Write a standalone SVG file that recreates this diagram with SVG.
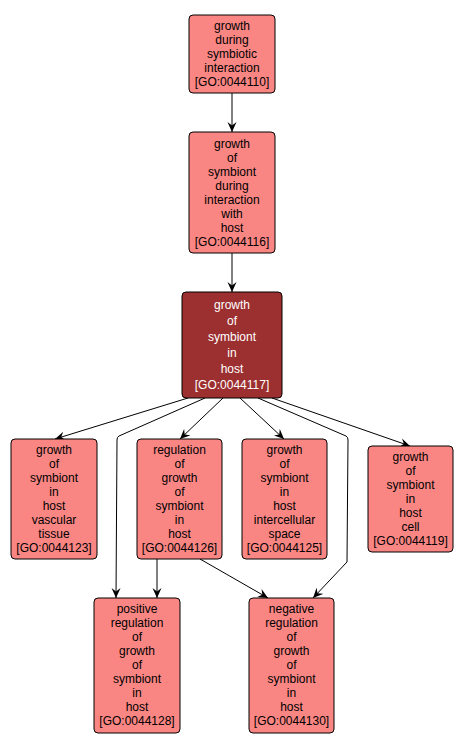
<svg xmlns="http://www.w3.org/2000/svg" width="463" height="749" viewBox="0 0 463 749">
<style>
.n rect{fill:#fa8684;stroke:#000;stroke-width:1}
.n text{font-family:"Liberation Sans",Arial,sans-serif;font-size:12px;fill:#000;text-anchor:middle}
.d rect{fill:#9c2f2f}
.d text{fill:#fff}
#edges path{fill:none;stroke:#000;stroke-width:1}
</style>
<defs>
<marker id="ar" viewBox="-10 -5 10 10" refX="0" refY="0" markerWidth="10" markerHeight="10" markerUnits="userSpaceOnUse" orient="auto">
<path d="M0,0 L-10,-4.5 L-6.5,0 L-10,4.5 Z" fill="#000"/>
</marker>
</defs>
<rect width="463" height="749" fill="#fff"/>
<g id="edges">
<path d="M232,93 L232,132" marker-end="url(#ar)"/>
<path d="M232,253 L232,292" marker-end="url(#ar)"/>
<path d="M188,398 L55,439" marker-end="url(#ar)"/>
<path d="M223,398 L180,439" marker-end="url(#ar)"/>
<path d="M240,398 L284,439" marker-end="url(#ar)"/>
<path d="M272,398 L410,446" marker-end="url(#ar)"/>
<path d="M205,398 L119,436 Q117,437 117,440 L116,598" marker-end="url(#ar)"/>
<path d="M258,398 L346,436 Q348,437 348,440 L347,562 L313,598" marker-end="url(#ar)"/>
<path d="M157,559 L157,598" marker-end="url(#ar)"/>
<path d="M200,559 L268,598" marker-end="url(#ar)"/>
</g>
<g id="GO0044110" class="n"><rect x="189" y="15" width="86" height="78" rx="4"/>
<text x="232" y="30">growth</text><text x="232" y="44">during</text><text x="232" y="58">symbiotic</text><text x="232" y="72">interaction</text><text x="232" y="86">[GO:0044110]</text></g>
<g id="GO0044116" class="n"><rect x="189" y="132" width="86" height="121" rx="4"/>
<text x="232" y="148">growth</text><text x="232" y="162">of</text><text x="232" y="176">symbiont</text><text x="232" y="190">during</text><text x="232" y="204">interaction</text><text x="232" y="218">with</text><text x="232" y="232">host</text><text x="232" y="246">[GO:0044116]</text></g>
<g id="GO0044117" class="n d"><rect x="182" y="292" width="100" height="106" rx="4"/>
<text x="232" y="309">growth</text><text x="232" y="325">of</text><text x="232" y="341">symbiont</text><text x="232" y="357">in</text><text x="232" y="373">host</text><text x="232" y="389">[GO:0044117]</text></g>
<g id="GO0044123" class="n"><rect x="11" y="439" width="86" height="120" rx="4"/>
<text x="54" y="454">growth</text><text x="54" y="468">of</text><text x="54" y="482">symbiont</text><text x="54" y="496">in</text><text x="54" y="510">host</text><text x="54" y="524">vascular</text><text x="54" y="538">tissue</text><text x="54" y="552">[GO:0044123]</text></g>
<g id="GO0044126" class="n"><rect x="137" y="439" width="85" height="120" rx="4"/>
<text x="179.5" y="454">regulation</text><text x="179.5" y="468">of</text><text x="179.5" y="482">growth</text><text x="179.5" y="496">of</text><text x="179.5" y="510">symbiont</text><text x="179.5" y="524">in</text><text x="179.5" y="538">host</text><text x="179.5" y="552">[GO:0044126]</text></g>
<g id="GO0044125" class="n"><rect x="242" y="439" width="85" height="120" rx="4"/>
<text x="284.5" y="454">growth</text><text x="284.5" y="468">of</text><text x="284.5" y="482">symbiont</text><text x="284.5" y="496">in</text><text x="284.5" y="510">host</text><text x="284.5" y="524">intercellular</text><text x="284.5" y="538">space</text><text x="284.5" y="552">[GO:0044125]</text></g>
<g id="GO0044119" class="n"><rect x="368" y="446" width="85" height="106" rx="4"/>
<text x="410.5" y="461">growth</text><text x="410.5" y="475">of</text><text x="410.5" y="489">symbiont</text><text x="410.5" y="503">in</text><text x="410.5" y="517">host</text><text x="410.5" y="531">cell</text><text x="410.5" y="545">[GO:0044119]</text></g>
<g id="GO0044128" class="n"><rect x="94" y="598" width="86" height="135" rx="4"/>
<text x="137" y="613">positive</text><text x="137" y="627">regulation</text><text x="137" y="641">of</text><text x="137" y="655">growth</text><text x="137" y="669">of</text><text x="137" y="683">symbiont</text><text x="137" y="697">in</text><text x="137" y="711">host</text><text x="137" y="725">[GO:0044128]</text></g>
<g id="GO0044130" class="n"><rect x="249" y="598" width="85" height="135" rx="4"/>
<text x="291.5" y="613">negative</text><text x="291.5" y="627">regulation</text><text x="291.5" y="641">of</text><text x="291.5" y="655">growth</text><text x="291.5" y="669">of</text><text x="291.5" y="683">symbiont</text><text x="291.5" y="697">in</text><text x="291.5" y="711">host</text><text x="291.5" y="725">[GO:0044130]</text></g>
</svg>
